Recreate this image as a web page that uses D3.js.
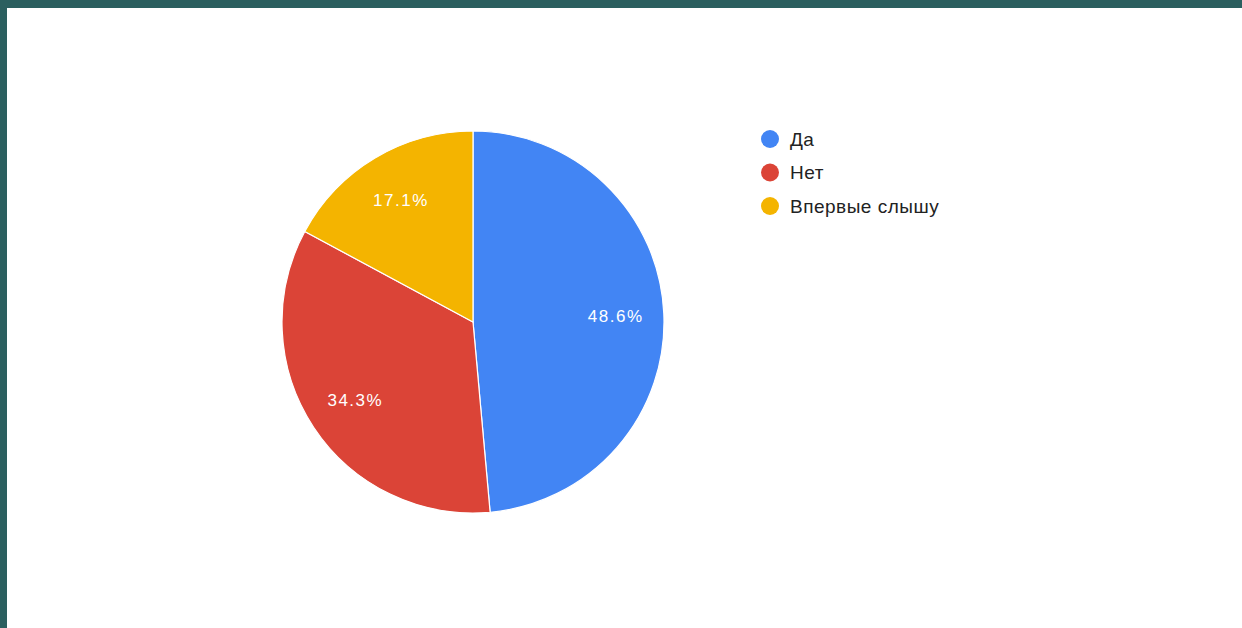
<!DOCTYPE html>
<html>
<head>
<meta charset="utf-8">
<script src="https://cdn.jsdelivr.net/npm/d3@7"></script>
<style>
  html, body { margin: 0; padding: 0; background: #2b5f5f; }
  svg { display: block; }
</style>
</head>
<body>
<svg width="1242" height="628"></svg>
<script>
const width = 1242,
    height = 628;

// answers and counts (35 responses)
const categories = ["Да", "Нет", "Впервые слышу"];
const counts = [17, 12, 6];
const colors = ["#4285f4", "#db4437", "#f4b400"];

const svg = d3.select("svg");

// slide frame
svg.append("rect")
    .attr("width", width).attr("height", height)
    .attr("fill", "#2b5f5f");
svg.append("rect")
    .attr("x", 7).attr("y", 8)
    .attr("width", width - 7).attr("height", height - 8)
    .attr("fill", "#ffffff");

const cx = 473, cy = 322, radius = 191;
const total = d3.sum(counts);
const fmt = d3.format(".1%");

const color = d3.scaleOrdinal().domain(categories).range(colors);

const pie = d3.pie().sort(null).value(d => d.value);
const arc = d3.arc().innerRadius(0).outerRadius(radius);
const labelArc = d3.arc().innerRadius(142).outerRadius(142);

const data = categories.map((c, i) => ({ name: c, value: counts[i] }));

const g = svg.append("g").attr("transform", `translate(${cx},${cy})`);

const slices = g.selectAll(".slice")
    .data(pie(data))
    .enter().append("g")
    .attr("class", "slice");

slices.append("path")
    .attr("d", arc)
    .attr("fill", d => color(d.data.name))
    .attr("stroke", "#ffffff")
    .attr("stroke-width", 1.2);

slices.append("text")
    .attr("transform", d => `translate(${labelArc.centroid(d)})`)
    .attr("text-anchor", "middle")
    .attr("dx", "0.8")
    .attr("dy", "0.35em")
    .style("font-family", "'Liberation Sans', Arial, sans-serif")
    .style("font-size", "17px")
    .style("letter-spacing", "1.5px")
    .style("fill", "#ffffff")
    .text(d => fmt(d.data.value / total));

// legend
const legend = svg.append("g").attr("transform", "translate(770,139)");
const item = legend.selectAll(".item")
    .data(categories)
    .enter().append("g")
    .attr("class", "item")
    .attr("transform", (d, i) => `translate(0,${i * 33.5})`);

item.append("circle")
    .attr("r", 9)
    .attr("fill", d => color(d));

item.append("text")
    .attr("x", 20)
    .attr("dy", "0.36em")
    .style("font-family", "'Liberation Sans', Arial, sans-serif")
    .style("font-size", "19px")
    .style("letter-spacing", "0.5px")
    .style("fill", "#222222")
    .text(d => d);
</script>
</body>
</html>
